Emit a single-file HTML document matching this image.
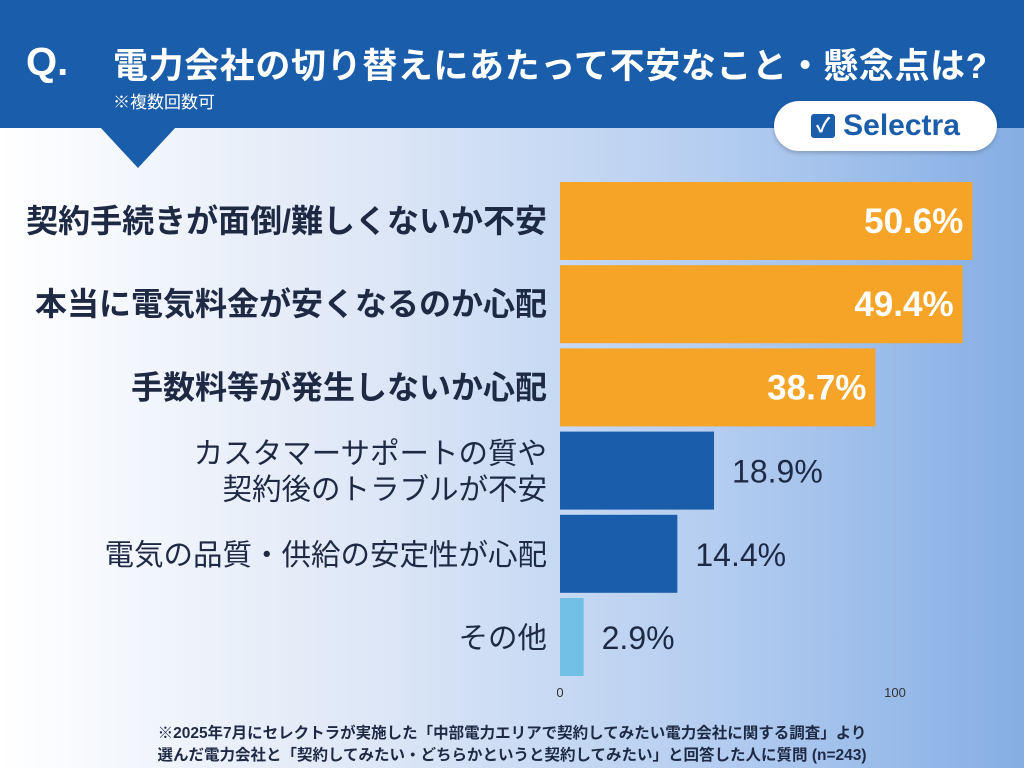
<!DOCTYPE html>
<html><head><meta charset="utf-8"><style>
*{margin:0;padding:0;box-sizing:border-box}
body{width:1024px;height:768px;overflow:hidden;position:relative;font-family:"Liberation Sans","Noto Sans CJK JP",sans-serif;background:linear-gradient(90deg,#ffffff 0%,#dfe8f7 35%,#b4cdf0 70%,#85aee4 100%)}
#hdr{position:absolute;left:0;top:0;width:1024px;height:128px;background:#1a5dab}
#tri{position:absolute;left:100px;top:127px;width:0;height:0;border-left:38px solid transparent;border-right:38px solid transparent;border-top:41px solid #1a5dab}
.q{position:absolute;left:26px;top:40px;color:#fff;font-size:40px;font-weight:bold}
.title{position:absolute;left:113px;top:38px;color:#fff;font-size:35px;font-weight:bold;white-space:nowrap;letter-spacing:0.6px}
.sub{position:absolute;left:113px;top:88px;color:#fff;font-size:17px}
#badge{position:absolute;left:774px;top:101px;width:223px;height:50px;background:#fff;border-radius:25px;box-shadow:0 2px 4px rgba(0,0,0,.2);color:#1a5dab;font-weight:bold;font-size:30px;display:flex;align-items:center;justify-content:center;gap:8px}
.chk{width:24px;height:24px;background:#1a5dab;color:#fff;font-size:20px;line-height:24px;text-align:center;border-radius:3px}
.foot{position:absolute;left:0;width:1024px;text-align:center;font-size:15.5px;font-weight:bold;color:#1e2a44}
</style></head><body>
<div id="hdr"></div>
<div id="tri"></div>
<div class="q">Q.</div>
<div class="title">電力会社の切り替えにあたって不安なこと・懸念点は?</div>
<div class="sub">※複数回数可</div>
<div id="badge"><span class="chk">✓</span>Selectra</div>
<svg id="chart" width="1024" height="768" style="position:absolute;left:0;top:0"></svg>
<div class="foot" style="top:721px">※2025年7月にセレクトラが実施した「中部電力エリアで契約してみたい電力会社に関する調査」より</div>
<div class="foot" style="top:743px">選んだ電力会社と「契約してみたい・どちらかというと契約してみたい」と回答した人に質問 (n=243)</div>
<script>
const categories=[["契約手続きが面倒/難しくないか不安"],["本当に電気料金が安くなるのか心配"],["手数料等が発生しないか心配"],["カスタマーサポートの質や","契約後のトラブルが不安"],["電気の品質・供給の安定性が心配"],["その他"]];
const values=[50.6,49.4,38.7,18.9,14.4,2.9];
const tickValues=[0,41.1];
const tickLabels=["0","100"];
const NS="http://www.w3.org/2000/svg";
const svg=document.getElementById('chart');
const x0=560,pxPer=8.15,top0=182,pitch=83.2,bh=78;
const xs=v=>x0+v*pxPer;
const ys=i=>top0+i*pitch;
function mk(t,a){const e=document.createElementNS(NS,t);for(const k in a)e.setAttribute(k,a[k]);svg.appendChild(e);return e;}
tickValues.forEach((t,i)=>{
 if(t>0){const g=mk('line',{x1:xs(t),x2:xs(t),y1:180,y2:680,stroke:'#9fb3d6','stroke-width':1});
 
 }
 const l=mk('text',{x:xs(t),y:697,'text-anchor':'middle','font-size':13,fill:'#333'});
 l.textContent=tickLabels[i];
 
 
});
values.forEach((v,i)=>{
 const top=i<3,y=ys(i);
 const col=top?'#f5a428':(i<5?'#1a5dab':'#72c0e6');
 const r=mk('rect',{x:x0,y:y,width:xs(v)-x0,height:bh,fill:col});
 
 
 const t=mk('text',{'font-size':top?35:32,'font-weight':top?'bold':'normal',fill:top?'#fff':'#1e2a44'});
 if(top){t.setAttribute('x',xs(v)-9);t.setAttribute('text-anchor','end');}
 else{t.setAttribute('x',xs(v)+18);t.setAttribute('text-anchor','start');}
 t.setAttribute('y',y+bh/2+12);
 t.textContent=v.toFixed(1)+'%';
 
 
 const lines=categories[i];
 lines.forEach((s,j)=>{
  const c=mk('text',{x:547,'text-anchor':'end','font-size':top?32:29.5,'font-weight':top?'bold':'normal',fill:'#1e2a44'});
  c.setAttribute('y',y+bh/2+11+(j-(lines.length-1)/2)*36);
  c.textContent=s;
  
  
 });
});
</script>
</body></html>
